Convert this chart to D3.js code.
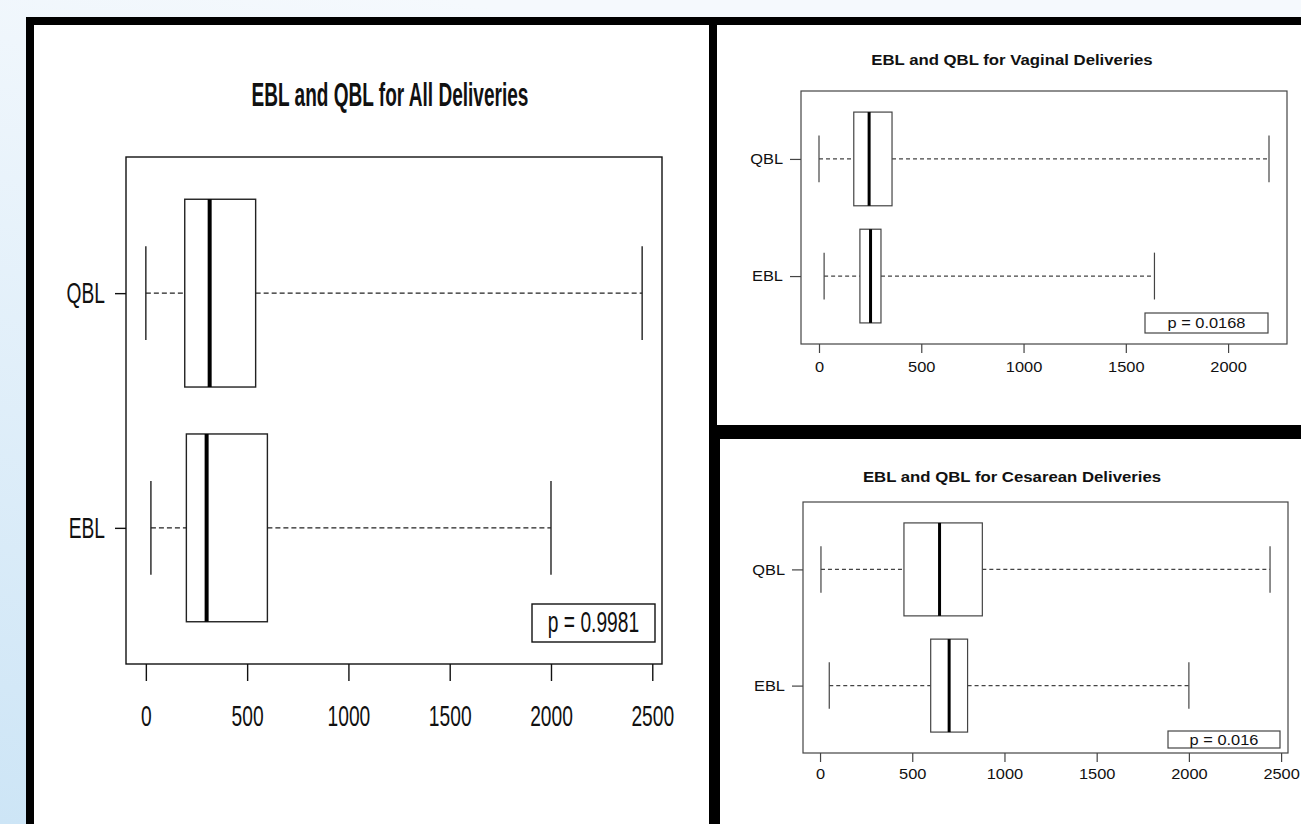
<!DOCTYPE html>
<html>
<head>
<meta charset="utf-8">
<script src="https://cdn.jsdelivr.net/npm/d3@7"></script>
<style>
  body { margin: 0; overflow: hidden; }
  text { font-family: "Liberation Sans", Arial, sans-serif; fill: #111; }
</style>
</head>
<body>
<div id="chart"></div>
<script>
// groups, bottom to top (R boxplot order)
const groups = ["EBL", "QBL"];

// five-number summaries: min, q1, median, q3, max
const allEBL = [25, 200, 300, 600, 2000];
const allQBL = [0, 192, 315, 542, 2450];
const vagEBL = [25, 200, 252, 303, 1640];
const vagQBL = [0, 170, 245, 357, 2200];
const cesEBL = [50, 600, 700, 800, 2000];
const cesQBL = [5, 455, 648, 880, 2440];

const titles = [
  "EBL and QBL for All Deliveries",
  "EBL and QBL for Vaginal Deliveries",
  "EBL and QBL for Cesarean Deliveries",
];
const pLabels = ["p = 0.9981", "p = 0.0168", "p = 0.016"];

const ticksAll = [0, 500, 1000, 1500, 2000, 2500];
const ticksVag = [0, 500, 1000, 1500, 2000];
const ticksCes = [0, 500, 1000, 1500, 2000, 2500];

const width = 1301;
const height = 824;

const svg = d3
  .select("#chart")
  .append("svg")
  .attr("width", width)
  .attr("height", height);

// background gradient
const grad = svg.append("defs").append("linearGradient")
  .attr("id", "bg")
  .attr("x1", 0).attr("y1", 1)
  .attr("x2", 0.35).attr("y2", 0);
grad.append("stop").attr("offset", "0%").attr("stop-color", "#cde5f6");
grad.append("stop").attr("offset", "100%").attr("stop-color", "#f5f9fd");
svg.append("rect").attr("width", width).attr("height", height).attr("fill", "url(#bg)");

// black frame with three white panels
svg.append("rect").attr("x", 26).attr("y", 17).attr("width", width - 26).attr("height", height - 17).attr("fill", "#000");
svg.append("rect").attr("x", 34).attr("y", 25).attr("width", 675).attr("height", height - 25).attr("fill", "#fff");
svg.append("rect").attr("x", 717).attr("y", 25).attr("width", width - 717).attr("height", 400).attr("fill", "#fff");
svg.append("rect").attr("x", 720).attr("y", 439).attr("width", width - 720).attr("height", height - 439).attr("fill", "#fff");

// squeeze / stretch text horizontally
const squeeze = function (sel, k) {
  sel.each(function () {
    const w = this.getComputedTextLength();
    d3.select(this).attr("textLength", w * k).attr("lengthAdjust", "spacingAndGlyphs");
  });
};

const rangeOf = function (series) {
  const lo = d3.min(series, (s) => s[0]);
  const hi = d3.max(series, (s) => s[4]);
  const pad = (hi - lo) * 0.04;
  return [lo - pad, hi + pad];
};

const drawPanel = function (cfg) {
  const g = svg.append("g");
  const x = d3.scaleLinear().domain(rangeOf(cfg.series)).range([cfg.left, cfg.right]);
  const y = d3.scaleLinear().domain([0.42, 2.58]).range([cfg.bottom, cfg.top]);
  const unit = y(1) - y(2);

  // title
  g.append("text")
    .attr("x", cfg.titleX || (cfg.left + cfg.right) / 2)
    .attr("y", cfg.titleY)
    .attr("text-anchor", "middle")
    .attr("font-weight", "bold")
    .attr("font-size", cfg.titleSize)
    .text(cfg.title)
    .call(squeeze, cfg.titleK);

  // boxes
  cfg.series.forEach((s, i) => {
    const cy = y(i + 1);
    const half = unit * 0.4;
    const box = g.append("g");
    box.append("line")
      .attr("x1", x(s[0])).attr("x2", x(s[1]))
      .attr("y1", cy).attr("y2", cy)
      .attr("stroke", cfg.ink).attr("stroke-width", cfg.lw)
      .attr("stroke-dasharray", cfg.dash);
    box.append("line")
      .attr("x1", x(s[3])).attr("x2", x(s[4]))
      .attr("y1", cy).attr("y2", cy)
      .attr("stroke", cfg.ink).attr("stroke-width", cfg.lw)
      .attr("stroke-dasharray", cfg.dash);
    box.selectAll(".staple")
      .data([s[0], s[4]])
      .join("line")
      .attr("class", "staple")
      .attr("x1", (d) => x(d)).attr("x2", (d) => x(d))
      .attr("y1", cy - half / 2).attr("y2", cy + half / 2)
      .attr("stroke", cfg.ink).attr("stroke-width", cfg.lw);
    box.append("rect")
      .attr("x", x(s[1])).attr("y", cy - half)
      .attr("width", x(s[3]) - x(s[1])).attr("height", half * 2)
      .attr("fill", "#fff")
      .attr("stroke", cfg.ink).attr("stroke-width", cfg.lw);
    box.append("line")
      .attr("x1", x(s[2])).attr("x2", x(s[2]))
      .attr("y1", cy - half).attr("y2", cy + half)
      .attr("stroke", "#000").attr("stroke-width", cfg.medW);
  });

  // plot frame
  g.append("rect")
    .attr("x", cfg.left).attr("y", cfg.top)
    .attr("width", cfg.right - cfg.left).attr("height", cfg.bottom - cfg.top)
    .attr("fill", "none")
    .attr("stroke", cfg.frame).attr("stroke-width", cfg.lw);

  // axes
  const xa = g.append("g")
    .attr("transform", `translate(0,${cfg.bottom})`)
    .call(d3.axisBottom(x).tickValues(cfg.ticks).tickFormat(d3.format("d"))
      .tickSize(cfg.xTick).tickPadding(cfg.xPad));
  const ya = g.append("g")
    .attr("transform", `translate(${cfg.left},0)`)
    .call(d3.axisLeft(y).tickValues([1, 2]).tickFormat((d) => groups[d - 1])
      .tickSize(cfg.yTick).tickPadding(cfg.yPad));
  [xa, ya].forEach((a) => {
    a.select(".domain").remove();
    a.selectAll("line").attr("stroke", cfg.frame).attr("stroke-width", cfg.lw);
    a.selectAll("text").attr("font-size", cfg.fontSize).attr("font-family", null).attr("fill", "#111")
      .call(squeeze, cfg.textK);
  });

  // p value legend box
  g.append("rect")
    .attr("x", cfg.pBox[0]).attr("y", cfg.pBox[2])
    .attr("width", cfg.pBox[1] - cfg.pBox[0]).attr("height", cfg.pBox[3] - cfg.pBox[2])
    .attr("fill", "#fff")
    .attr("stroke", cfg.frame).attr("stroke-width", cfg.lw);
  g.append("text")
    .attr("x", (cfg.pBox[0] + cfg.pBox[1]) / 2)
    .attr("y", cfg.pBox[3] - cfg.pBase)
    .attr("text-anchor", "middle")
    .attr("font-size", cfg.fontSize)
    .text(cfg.p)
    .call(squeeze, cfg.textK);
};

drawPanel({
  series: [allEBL, allQBL], ticks: ticksAll, title: titles[0], p: pLabels[0],
  left: 126, right: 662, top: 157, bottom: 664,
  titleX: 390, titleY: 106, titleSize: 34, titleK: 0.56,
  fontSize: 30, textK: 0.64,
  xTick: 17, xPad: 24, yTick: 11, yPad: 10,
  pBox: [532, 655, 604, 642], pBase: 10,
  ink: "#222", frame: "#111", lw: 1.4, medW: 4, dash: "5,3",
});

drawPanel({
  series: [vagEBL, vagQBL], ticks: ticksVag, title: titles[1], p: pLabels[1],
  left: 801, right: 1287, top: 91, bottom: 344,
  titleX: 1012, titleY: 65, titleSize: 14.5, titleK: 1.155,
  fontSize: 14.5, textK: 1.13,
  xTick: 9, xPad: 9, yTick: 11, yPad: 7,
  pBox: [1145, 1268, 313, 333], pBase: 5,
  ink: "#444", frame: "#444", lw: 1.2, medW: 3, dash: "4,3",
});

drawPanel({
  series: [cesEBL, cesQBL], ticks: ticksCes, title: titles[2], p: pLabels[2],
  left: 803, right: 1288, top: 502, bottom: 753,
  titleX: 1012, titleY: 482, titleSize: 14.5, titleK: 1.155,
  fontSize: 14.5, textK: 1.13,
  xTick: 9, xPad: 7, yTick: 11, yPad: 7,
  pBox: [1168, 1280, 731, 748], pBase: 3,
  ink: "#444", frame: "#444", lw: 1.2, medW: 3, dash: "4,3",
});
</script>
</body>
</html>
